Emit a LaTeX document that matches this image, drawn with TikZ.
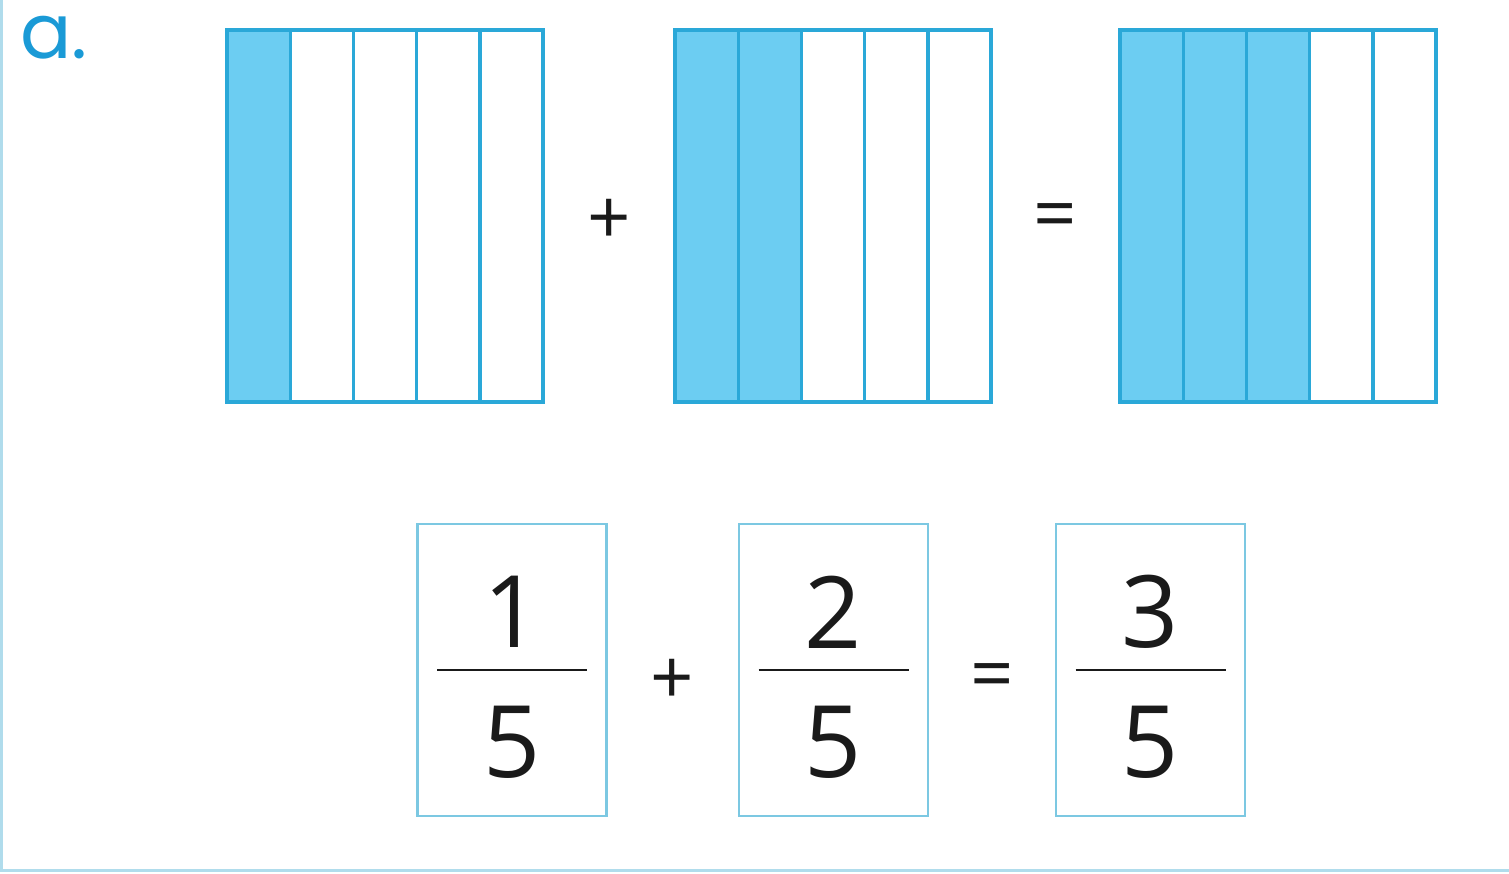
\documentclass[tikz,border=0pt]{standalone}
\usepackage{fontspec}
\setmainfont{Open Sans}
\newfontfamily\labfont{Poppins}
\definecolor{stripfill}{HTML}{6CCDF2}
\definecolor{stripline}{HTML}{2AA8D8}
\definecolor{fracline}{HTML}{7CC8E2}
\definecolor{framecol}{HTML}{B0DCEC}
\definecolor{labblue}{HTML}{1A9AD6}
\definecolor{ink}{HTML}{1A1A1A}
\tikzset{
  strip/.style={draw=stripline, line width=1.7pt},
  shaded/.style={strip, fill=stripfill},
  fracbox/.style={draw=fracline, line width=1.2pt, minimum width=94.5pt, minimum height=146pt, inner sep=0pt},
  digit/.style={font=\fontsize{50}{50}\selectfont, text=ink, inner sep=0pt},
  opsign/.style={font=\fontsize{38}{38}\selectfont, text=ink, inner sep=0pt},
  frame/.style={draw=framecol, line width=1.5pt}
}
\begin{document}
\begin{tikzpicture}[x=0.5pt,y=-0.5pt]
\useasboundingbox (0,0) rectangle (1509,873);
% frame lines
\draw[frame] (1.5,0) -- (1.5,870.5) -- (1509,870.5);
% label
\node[anchor=base west, text=labblue, font=\labfont\fontsize{38}{38}\selectfont, inner sep=0pt] (lab) at (20,58) {a.};
% strip models
\foreach \bx/\n/\nm in {227/1/m1, 675/2/m2, 1120/3/m3}{
  \foreach \i in {1,...,5}{
    \pgfmathsetmacro{\xa}{\bx+(\i-1)*63.2}
    \pgfmathsetmacro{\xb}{\bx+\i*63.2}
    \ifnum\i>\n
      \draw[strip] (\xa,30) rectangle (\xb,402);
    \else
      \draw[shaded] (\xa,30) rectangle (\xb,402);
    \fi
  }
  \node[inner sep=0pt, minimum width=158pt, minimum height=186pt] (\nm) at (\bx+158,216) {};
}
\node[opsign] (p1) at (609,222) {+};
\node[opsign] (e1) at (1055,222) {=};
% fraction cards
\foreach \cx/\num/\nm in {512/1/f1, 833.5/2/f2, 1150.5/3/f3}{
  \node[fracbox] (\nm) at (\cx,670) {};
  \draw[ink, line width=0.8pt] (\cx-75,670) -- (\cx+75,670);
  \node[digit] (\nm n) at (\cx,612) {\num};
  \node[digit] (\nm d) at (\cx,742) {5};
}
\node[opsign] (p2) at (672,682) {+};
\node[opsign] (e2) at (992,682) {=};
\end{tikzpicture}
\end{document}
